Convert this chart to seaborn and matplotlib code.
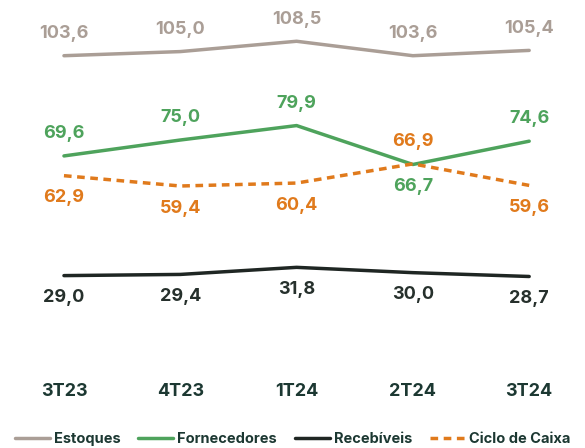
import pandas as pd
import matplotlib.pyplot as plt
import seaborn as sns

# dados
trimestres = ["3T23", "4T23", "1T24", "2T24", "3T24"]
estoques = [103.6, 105.0, 108.5, 103.6, 105.4]
fornecedores = [69.6, 75.0, 79.9, 66.7, 74.6]
recebiveis = [29.0, 29.4, 31.8, 30.0, 28.7]
ciclo_caixa = [62.9, 59.4, 60.4, 66.9, 59.6]

series = ["Estoques", "Fornecedores", "Recebíveis", "Ciclo de Caixa"]
cores = {"Estoques": "#aa9e96", "Fornecedores": "#4ea35c",
         "Recebíveis": "#1f2623", "Ciclo de Caixa": "#e07a1c"}
cores_texto = {"Estoques": "#aa9e96", "Fornecedores": "#4ea35c",
               "Recebíveis": "#26302c", "Ciclo de Caixa": "#e07a1c"}
# posicao do rotulo: +1 acima, -1 abaixo
lado = {"Estoques": [1, 1, 1, 1, 1],
        "Fornecedores": [1, 1, 1, -1, 1],
        "Recebíveis": [-1, -1, -1, -1, -1],
        "Ciclo de Caixa": [-1, -1, -1, 1, -1]}

valores = dict(zip(series, [estoques, fornecedores, recebiveis, ciclo_caixa]))
df = pd.DataFrame([
    {"x": i, "trimestre": t, "serie": s, "valor": v}
    for s in series for i, (t, v) in enumerate(zip(trimestres, valores[s]))
])

sns.set_style("white")
plt.rcParams['font.family'] = ['Inter', 'DejaVu Sans']

fig = plt.figure(figsize=(5.85, 4.48), dpi=100)
ax = fig.add_axes([0, 0.194, 1, 0.806])

sns.lineplot(data=df, x="x", y="valor", hue="serie", style="serie",
             hue_order=series, style_order=series, palette=cores,
             dashes={"Estoques": "", "Fornecedores": "", "Recebíveis": "",
                     "Ciclo de Caixa": (2.2, 1.6)},
             linewidth=2.5, ax=ax, legend=False)

for s in series:
    for i, v in enumerate(valores[s]):
        ax.annotate(f"{v:.1f}".replace(".", ","), (i, v),
                    xytext=(0, 16 * lado[s][i]), textcoords="offset points",
                    ha="center", va="center", fontsize=13, fontweight="bold",
                    color=cores_texto[s])

ax.set_xlim(-0.55, 4.48)
ax.set_ylim(0, 122.5)
ax.set_xticks(range(len(trimestres)))
ax.set_xticklabels(trimestres, fontsize=13, fontweight="bold", color="#1c3832")
ax.tick_params(axis="x", length=0, pad=16)
ax.set_yticks([])
ax.set_xlabel("")
ax.set_ylabel("")
sns.despine(ax=ax, left=True, bottom=True)

handles = [plt.Line2D([], [], color=cores[s], linewidth=2.5,
                      linestyle=(0, (2.2, 1.6)) if s == "Ciclo de Caixa" else "-")
           for s in series]
fig.legend(handles, series, loc="lower center", bbox_to_anchor=(0.5, -0.025),
           ncol=4, frameon=False, handlelength=2.4, columnspacing=1.2,
           handletextpad=0.3,
           prop={"size": 10.5, "weight": "bold"}, labelcolor="#1c3832")

fig.savefig("out.png", dpi=100)
